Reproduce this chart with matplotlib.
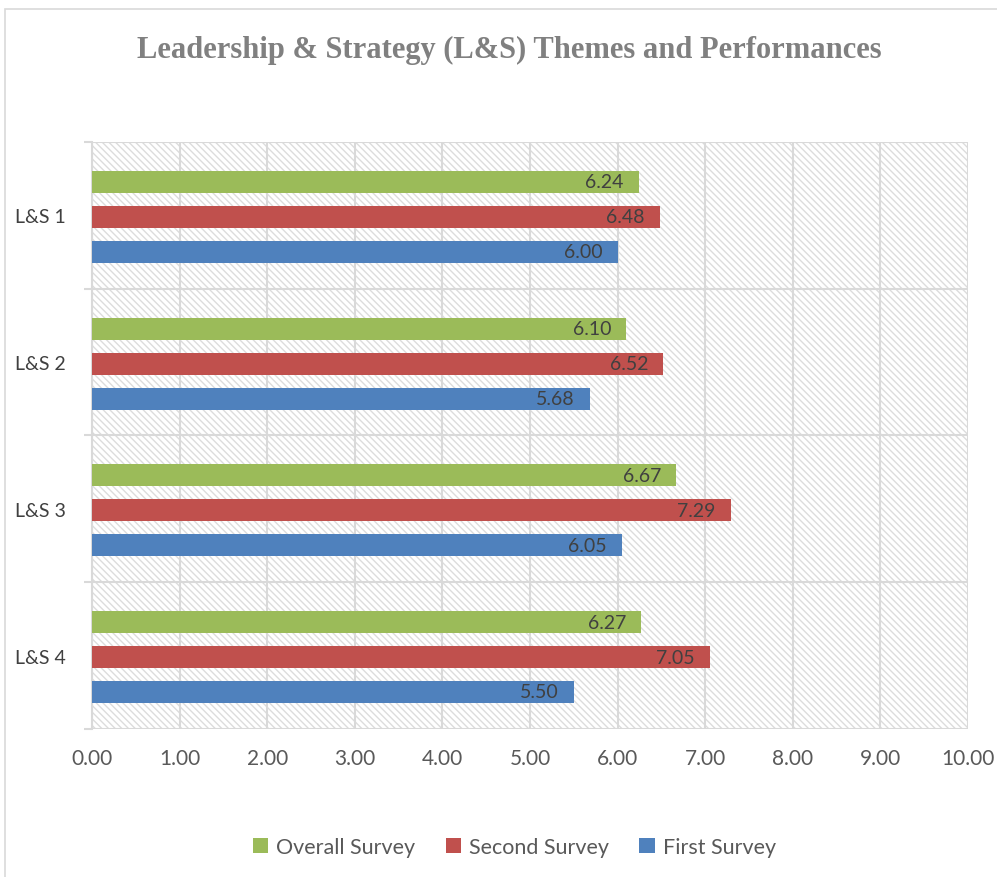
import matplotlib.pyplot as plt
import numpy as np
from matplotlib.patches import Rectangle

# data
themes = ["L&S 1", "L&S 2", "L&S 3", "L&S 4"]
first_survey = [6.00, 5.68, 6.05, 5.50]
second_survey = [6.48, 6.52, 7.29, 7.05]
overall_survey = [6.24, 6.10, 6.67, 6.27]

series = [("First Survey", first_survey, "#4f81bd"),
          ("Second Survey", second_survey, "#c0504d"),
          ("Overall Survey", overall_survey, "#9bbb59")]

plt.rcParams['font.family'] = ['Lato', 'DejaVu Sans']
plt.rcParams['hatch.color'] = "#d4d4d4"

fig = plt.figure(figsize=(9.97, 8.78), dpi=100)
ax = fig.add_axes([0.0923, 0.1686, 0.8786, 0.6685])

# chart border
fig.patches.append(Rectangle((0.005, -0.01), 1.2, 0.999, transform=fig.transFigure,
                             fill=False, edgecolor="#d9d9d9", linewidth=1.2))

# hatched plot background
ax.add_patch(Rectangle((0, 0), 1, 1, transform=ax.transAxes, facecolor="white",
                       edgecolor="#dcdcdc", hatch="\\\\\\\\\\", linewidth=0, zorder=0))

y = np.arange(len(themes))[::-1].astype(float)
h = 0.15
step = 0.238
for i, (name, vals, col) in enumerate(series):
    pos = y + (i - 1) * step - 0.01
    bars = ax.barh(pos, vals, height=h, color=col, label=name, zorder=3)
    for b, v in zip(bars, vals):
        ax.text(v - 0.17, b.get_y() + h / 2, "%.2f" % v, ha="right", va="center",
                fontsize=14, color="#404040", zorder=4)

ax.set_xlim(0, 10)
ax.set_ylim(-0.5, len(themes) - 0.5)
ax.set_xticks(np.arange(0, 11, 1))
ax.set_xticklabels(["%.2f" % t for t in range(11)])
ax.set_yticks(y)
ax.set_yticklabels(themes)
ax.set_yticks(np.arange(-0.5, len(themes), 1), minor=True)
ax.tick_params(axis="y", which="major", length=0, pad=19, labelsize=14, labelcolor="#404040")
ax.tick_params(axis="y", which="minor", length=6, color="#d9d9d9", width=1.5)
ax.tick_params(axis="x", length=0, pad=14, labelsize=15, labelcolor="#595959")

ax.grid(axis="x", color="#d9d9d9", linewidth=1.5, zorder=1)
ax.grid(axis="y", which="minor", color="#d9d9d9", linewidth=1.5, zorder=1)
ax.set_axisbelow(True)
for s in ["top", "right", "bottom"]:
    ax.spines[s].set_visible(False)
ax.spines["left"].set_color("#d9d9d9")
ax.spines["left"].set_linewidth(1.5)

fig.text(0.511, 0.942, "Leadership & Strategy (L&S) Themes and Performances",
         ha="center", va="center", fontsize=22, fontweight="bold",
         color="#808080", family=["Liberation Serif", "DejaVu Serif"])

handles, labels = ax.get_legend_handles_labels()
leg = fig.legend(handles[::-1], labels[::-1], loc="center", bbox_to_anchor=(0.516, 0.034),
                 ncol=3, frameon=False, fontsize=15.5, handlelength=0.7, handleheight=0.7,
                 handletextpad=0.4, columnspacing=1.4)
for t in leg.get_texts():
    t.set_color("#595959")

fig.savefig("out.png", dpi=100)
